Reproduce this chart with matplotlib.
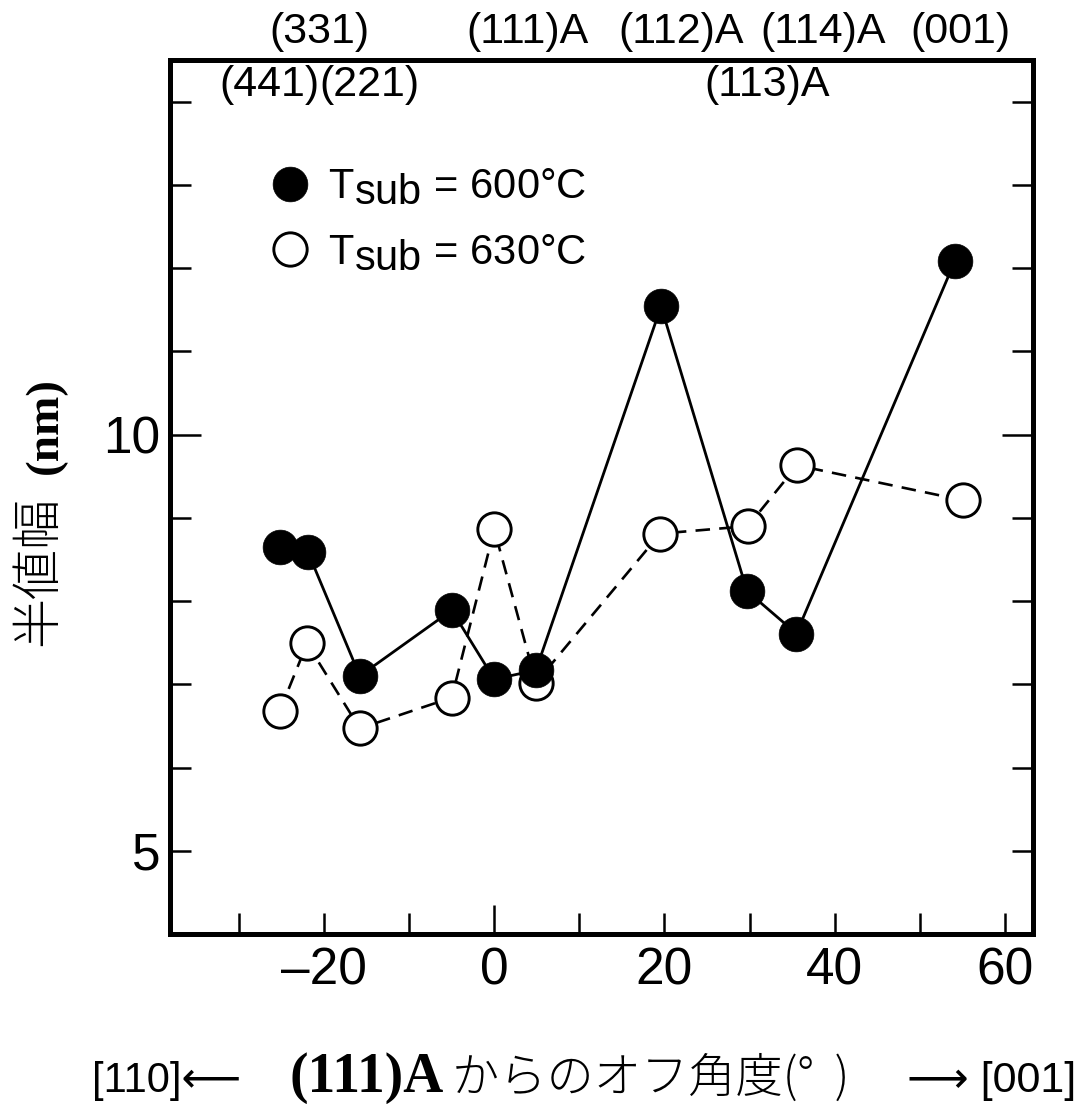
import matplotlib
matplotlib.use("Agg")
import matplotlib.pyplot as plt
import matplotlib._mathtext as _mt

# ---------------- data ----------------
angle_600 = [-25.2, -21.9, -15.8, -5.0, 0.0, 4.9, 19.6, 29.7, 35.5, 54.1]
fwhm_600 = [8.65, 8.59, 7.10, 7.89, 7.06, 7.17, 11.54, 8.12, 7.61, 12.08]
angle_630 = [-25.2, -22.0, -15.8, -5.0, 0.0, 4.9, 19.5, 29.8, 35.6, 55.1]
fwhm_630 = [6.68, 7.49, 6.47, 6.84, 8.86, 7.02, 8.81, 8.90, 9.63, 9.21]
series_labels = [r"T$_{\mathregular{sub}}$ = 600°C", r"T$_{\mathregular{sub}}$ = 630°C"]

x_ticks = [-30, -20, -10, 0, 10, 20, 30, 40, 50, 60]
x_ticklabels = ["", "–20", "", "0", "", "20", "", "40", "", "60"]
y_ticks = [5, 6, 7, 8, 9, 10, 11, 12, 13, 14]
y_ticklabels = ["5", "", "", "", "", "10", "", "", "", ""]

planes_top = ["(331)", "(111)A", "(112)A", "(114)A", "(001)"]
planes_top_x = [-20.6, 3.95, 22.0, 38.6, 54.8]
planes_low = ["(441)", "(221)", "(113)A"]
planes_low_x = [-20.5, -20.5, 32.1]
planes_low_ha = ["right", "left", "center"]

ylabel_cjk = "半値幅"
ylabel_unit = "(nm)"
xlabel_left = "[110]⟵"
xlabel_bold = "(111)A"
xlabel_cjk = "からのオフ角度(°  )"
xlabel_right = "⟶ [001]"

# ---------------- style ----------------
_mt.SHRINK_FACTOR = 1.0
plt.rcParams["font.family"] = ["Liberation Sans", "Noto Sans CJK JP", "DejaVu Sans"]

fig = plt.figure(figsize=(10.78, 11.04), dpi=100)
ax = fig.add_axes([170 / 1078, 1 - 934 / 1104, (1033 - 170) / 1078, (934 - 60) / 1104])

ax.plot(angle_630, fwhm_630, color="black", lw=1.9, dashes=(5.5, 3.5),
        marker="o", ms=24, mfc="white", mec="black", mew=2.1, zorder=2,
        label=series_labels[1])
ax.plot(angle_600, fwhm_600, color="black", lw=2.0,
        marker="o", ms=25, mfc="black", mec="black", mew=0.5, zorder=3,
        label=series_labels[0])

ax.set_xlim(-38.1, 63.3)
ax.set_ylim(4.0, 14.5)

ax.set_xticks(x_ticks)
ax.set_xticklabels(x_ticklabels, fontsize=37)
ax.set_yticks(y_ticks)
ax.set_yticklabels(y_ticklabels, fontsize=37)
ax.tick_params(axis="both", direction="in", length=15, width=1.8,
               top=False, right=True)
ax.tick_params(axis="x", pad=9)
ax.tick_params(axis="y", pad=7)
for i, t in enumerate(ax.xaxis.get_major_ticks()):
    if x_ticks[i] == 0:
        t.tick1line.set_markersize(21)
for i, t in enumerate(ax.yaxis.get_major_ticks()):
    if y_ticks[i] == 10:
        t.tick1line.set_markersize(22)
        t.tick2line.set_markersize(22)
for s in ax.spines.values():
    s.set_linewidth(3.6)

# legend
h, l = ax.get_legend_handles_labels()
leg = ax.legend(h[::-1], l[::-1], loc="upper left", bbox_to_anchor=(0.115, 0.878),
                frameon=False, fontsize=30, handlelength=1.0, handletextpad=0.40,
                borderpad=0, borderaxespad=0, labelspacing=0.59)
for lh in leg.legend_handles:
    lh.set_linestyle("none")

# plane labels
for lab, x in zip(planes_top, planes_top_x):
    ax.text(x, 14.84, lab, ha="center", va="center", fontsize=31, clip_on=False)
for lab, x, ha in zip(planes_low, planes_low_x, planes_low_ha):
    ax.text(x, 14.2, lab, ha=ha, va="center", fontsize=31, clip_on=False)

# y label (two parts)
fig.text(0.036, 1 - 571 / 1104, ylabel_cjk, rotation=90, ha="center", va="center",
         fontsize=36, family=["Noto Sans CJK JP"], fontweight="light")
fig.text(0.042, 1 - 425 / 1104, ylabel_unit, rotation=90, ha="center", va="center",
         fontsize=34, family=["Liberation Serif"], fontweight="bold")

# x label (pieces)
ybase = 1 - 1092 / 1104
fig.text(92 / 1078, ybase, xlabel_left, ha="left", va="baseline", fontsize=30,
         family=["Liberation Sans", "DejaVu Sans"])
fig.text(290 / 1078, ybase, xlabel_bold, ha="left", va="baseline", fontsize=40,
         family=["Liberation Serif"], fontweight="bold")
fig.text(452 / 1078, ybase, xlabel_cjk, ha="left", va="baseline", fontsize=34,
         family=["Noto Sans CJK JP", "DejaVu Sans"], fontweight="light")
fig.text(1076 / 1078, ybase, xlabel_right, ha="right", va="baseline", fontsize=31,
         family=["Liberation Sans", "DejaVu Sans"])

fig.savefig("out.png", dpi=100)
